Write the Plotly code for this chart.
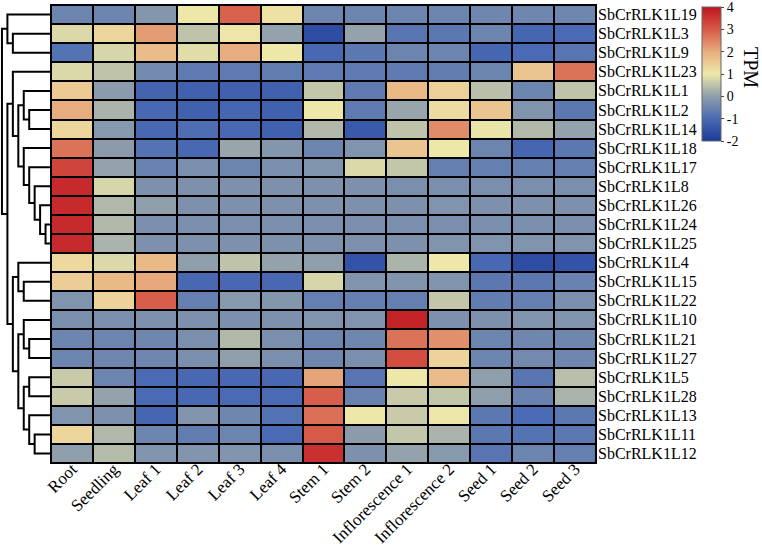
import plotly.graph_objects as go

W, H = 762, 546

tissues = ["Root", "Seedling", "Leaf 1", "Leaf 2", "Leaf 3", "Leaf 4", "Stem 1", "Stem 2",
           "Inflorescence 1", "Inflorescence 2", "Seed 1", "Seed 2", "Seed 3"]

genes = ["SbCrRLK1L19", "SbCrRLK1L3", "SbCrRLK1L9", "SbCrRLK1L23", "SbCrRLK1L1", "SbCrRLK1L2",
         "SbCrRLK1L14", "SbCrRLK1L18", "SbCrRLK1L17", "SbCrRLK1L8", "SbCrRLK1L26", "SbCrRLK1L24",
         "SbCrRLK1L25", "SbCrRLK1L4", "SbCrRLK1L15", "SbCrRLK1L22", "SbCrRLK1L10", "SbCrRLK1L21",
         "SbCrRLK1L27", "SbCrRLK1L5", "SbCrRLK1L28", "SbCrRLK1L13", "SbCrRLK1L11", "SbCrRLK1L12"]

# values per tissue (one entry per gene, in gene order above)
root = [-0.5, 0.8, -0.85, 0.8, 1.5, 2.0, 1.3, 2.7, 3.3, 3.7, 3.7, 3.7, 3.7, 1.25, 1.45, -0.2, -0.3, -0.5, -0.5, 0.6, 0.6, -0.2, 1.3, 0.0]
seedling = [-0.5, 1.3, 0.75, 0.5, -0.05, 0.3, -0.1, -0.05, 0.05, 0.75, 0.35, 0.35, 0.3, 0.8, 1.8, 1.35, -0.3, -0.5, -0.45, -0.5, 0.05, -0.25, 0.35, 0.4]
leaf1 = [-0.15, 2.2, 1.75, -0.4, -1.15, -1.05, -1.05, -0.85, -0.55, -0.25, 0.0, -0.3, -0.25, 1.8, 2.05, 2.95, -0.25, -0.45, -0.45, -1.0, -1.0, -1.1, -0.5, -0.2]
leaf2 = [1.0, 0.5, 0.85, -0.7, -1.2, -1.2, -0.95, -1.05, -0.3, -0.25, -0.25, -0.3, -0.25, 0.0, -1.05, -0.6, -0.25, -0.3, -0.3, -1.05, -1.05, -0.2, -0.65, -0.2]
leaf3 = [2.9, 1.05, 2.0, -0.7, -1.2, -1.1, -1.05, 0.1, -0.5, -0.25, -0.25, -0.3, -0.25, 0.5, -1.05, -0.1, -0.3, 0.35, 0.0, -1.05, -1.0, -0.45, -0.5, -0.2]
leaf4 = [1.1, 0.05, 1.0, -0.65, -1.2, -1.2, -1.2, -0.15, -0.3, -0.25, -0.25, -0.3, -0.25, 0.05, -1.05, -0.15, -0.25, -0.3, -0.3, -1.05, -1.0, -0.85, -1.0, -0.3]
stem1 = [-0.5, -1.6, -1.05, -0.7, 0.55, 1.0, 0.35, -0.5, -0.2, -0.25, -0.25, -0.3, -0.25, 0.0, 0.75, -0.6, -0.2, -0.5, -0.45, 2.1, 2.95, 2.75, 3.0, 3.6]
stem2 = [-0.5, 0.05, -0.75, -0.7, -0.7, -0.7, -1.35, -0.2, 0.8, -0.25, -0.25, -0.3, -0.25, -1.5, -0.2, -0.6, -0.2, -0.45, -0.3, -0.8, -0.55, 1.0, -0.05, -0.25]
infl1 = [-0.5, -0.8, -0.5, -0.7, 1.8, 0.1, 0.5, 1.6, 0.55, -0.3, -0.25, -0.3, -0.25, 0.3, -0.2, -0.6, 3.8, 2.7, 3.2, 1.0, 0.6, 0.6, 0.55, 0.05]
infl2 = [-0.5, -0.75, -0.5, -0.65, 1.4, 1.2, 2.4, 1.0, -0.6, -0.3, -0.2, -0.3, -0.2, 1.0, -0.2, 0.55, -0.25, 2.35, 1.35, 1.75, 0.55, 1.0, 0.3, -0.1]
seed1 = [-0.45, -0.5, -1.1, -0.5, 0.45, 1.6, 0.95, -0.5, -0.6, -0.3, -0.25, -0.3, -0.2, -1.05, -0.75, -0.65, -0.25, -0.5, -0.5, 0.0, 0.0, -0.75, -0.75, -0.8]
seed2 = [-0.45, -1.1, -1.0, 1.6, -0.5, -0.2, 0.35, -1.1, -0.6, -0.3, -0.25, -0.3, -0.2, -1.6, -0.75, -0.6, -0.2, -0.45, -0.4, -0.8, -0.55, -1.0, -0.85, -0.5]
seed3 = [-0.45, -1.0, -0.8, 2.7, 0.5, -0.75, 0.05, -0.75, -0.6, -0.3, -0.25, -0.3, -0.2, -1.5, -0.55, -0.3, -0.2, -0.45, -0.45, 0.45, 0.3, -0.75, -0.75, -0.6]

columns = [root, seedling, leaf1, leaf2, leaf3, leaf4, stem1, stem2, infl1, infl2, seed1, seed2, seed3]

cbar_vals = [-2, -1, 0, 1, 2, 3, 4]
cbar_text = ["-2", "-1", "0", "1", "2", "3", "4"]

# hierarchical clustering of rows: (left, right, merge level)
merges = [
    ("SbCrRLK1L3", "SbCrRLK1L9", 7),    # m0
    ("SbCrRLK1L19", "m0", 8),           # m1
    ("SbCrRLK1L2", "SbCrRLK1L14", 4),   # m2
    ("SbCrRLK1L1", "m2", 5),            # m3
    ("SbCrRLK1L24", "SbCrRLK1L25", 1),  # m4
    ("SbCrRLK1L26", "m4", 2),           # m5
    ("SbCrRLK1L8", "m5", 3),            # m6
    ("SbCrRLK1L17", "m6", 4),           # m7
    ("SbCrRLK1L18", "m7", 5),           # m8
    ("m3", "m8", 6),                    # m9
    ("SbCrRLK1L23", "m9", 7),           # m10
    ("SbCrRLK1L15", "SbCrRLK1L22", 5),  # m11
    ("SbCrRLK1L4", "m11", 6),           # m12
    ("SbCrRLK1L21", "SbCrRLK1L27", 4),  # m13
    ("SbCrRLK1L10", "m13", 5),          # m14
    ("SbCrRLK1L5", "SbCrRLK1L28", 4),   # m15
    ("SbCrRLK1L11", "SbCrRLK1L12", 3),  # m16
    ("SbCrRLK1L13", "m16", 4),          # m17
    ("m15", "m17", 5),                  # m18
    ("m14", "m18", 6),                  # m19
    ("m12", "m19", 7),                  # m20
    ("m10", "m20", 8),                  # m21
    ("m1", "m21", 9),                   # m22
]

colorscale = [
    [0.0, "#1a3a99"],
    [1 / 6, "#4a6bb3"],
    [2 / 6, "#8e9eab"],
    [3 / 6, "#eee8a8"],
    [4 / 6, "#e8ad7e"],
    [5 / 6, "#d65a48"],
    [1.0, "#c01520"],
]

FONT = "Times New Roman, Liberation Serif, serif"

nrow, ncol = len(genes), len(tissues)
z = [[columns[j][i] for j in range(ncol)] for i in range(nrow)]

# pixel layout -> paper fractions
hm_x0, hm_x1 = 51, 596
hm_y0, hm_y1 = 5, 463
dom_x = [hm_x0 / W, hm_x1 / W]
dom_y = [1 - hm_y1 / H, 1 - hm_y0 / H]

fig = go.Figure()

fig.add_trace(go.Heatmap(
    z=z, x=list(range(ncol)), y=list(range(nrow)),
    colorscale=colorscale, zmin=-2, zmax=4, xgap=2, ygap=2,
    xaxis="x", yaxis="y",
    colorbar=dict(
        x=702 / W, xanchor="left", xpad=0, ypad=0,
        y=1 - 74 / H, yanchor="middle", len=134 / H, lenmode="fraction",
        thickness=19, outlinewidth=1, outlinecolor="#666666",
        tickmode="array", tickvals=cbar_vals, ticktext=cbar_text,
        ticks="outside", ticklen=3, ticklabeloverflow="allow",
        tickcolor="#444444", tickwidth=1,
        tickfont=dict(family=FONT, size=14, color="black"),
    ),
    hoverinfo="skip",
))

# dendrogram from merges
pos = {g: (i, 0.0) for i, g in enumerate(genes)}
for k, (a, b, h) in enumerate(merges):
    ya, ha = pos[a]
    yb, hb = pos[b]
    xs = [ha, h, h, hb]
    ys = [ya, ya, yb, yb]
    fig.add_trace(go.Scatter(x=xs, y=ys, mode="lines", xaxis="x2", yaxis="y2",
                             line=dict(color="black", width=2), hoverinfo="skip",
                             showlegend=False))
    pos["m%d" % k] = ((ya + yb) / 2, h)

fig.add_shape(type="rect", xref="x domain", yref="y domain", x0=0, x1=1, y0=0, y1=1,
              fillcolor="black", line=dict(color="black", width=2), layer="below")

fig.add_annotation(text="TPM", xref="paper", yref="paper", x=751 / W, y=1 - 67 / H,
                   xanchor="center", yanchor="middle",
                   showarrow=False, textangle=90,
                   font=dict(family=FONT, size=20, color="black"))

fig.update_layout(
    width=W, height=H, margin=dict(l=0, r=0, t=0, b=0),
    paper_bgcolor="white", plot_bgcolor="white", showlegend=False,
    xaxis=dict(domain=dom_x, range=[-0.5, ncol - 0.5], tickvals=list(range(ncol)),
               ticktext=tissues, tickangle=-45, showgrid=False, zeroline=False,
               ticks="", ticklen=0, ticklabelstandoff=-8,
               tickfont=dict(family=FONT, size=17, color="black"), automargin=False,
               anchor="y"),
    yaxis=dict(domain=dom_y, range=[nrow - 0.5, -0.5], tickvals=list(range(nrow)),
               ticktext=genes, side="right", showgrid=False, zeroline=False,
               ticks="", ticklen=0, ticklabelstandoff=1,
               tickfont=dict(family=FONT, size=16, color="black"), automargin=False,
               anchor="x"),
    xaxis2=dict(domain=[0, hm_x0 / W], range=[9.36, 0], visible=False, anchor="y2"),
    yaxis2=dict(domain=dom_y, range=[nrow - 0.5, -0.5], visible=False, anchor="x2"),
)

fig.write_html("out.html")
